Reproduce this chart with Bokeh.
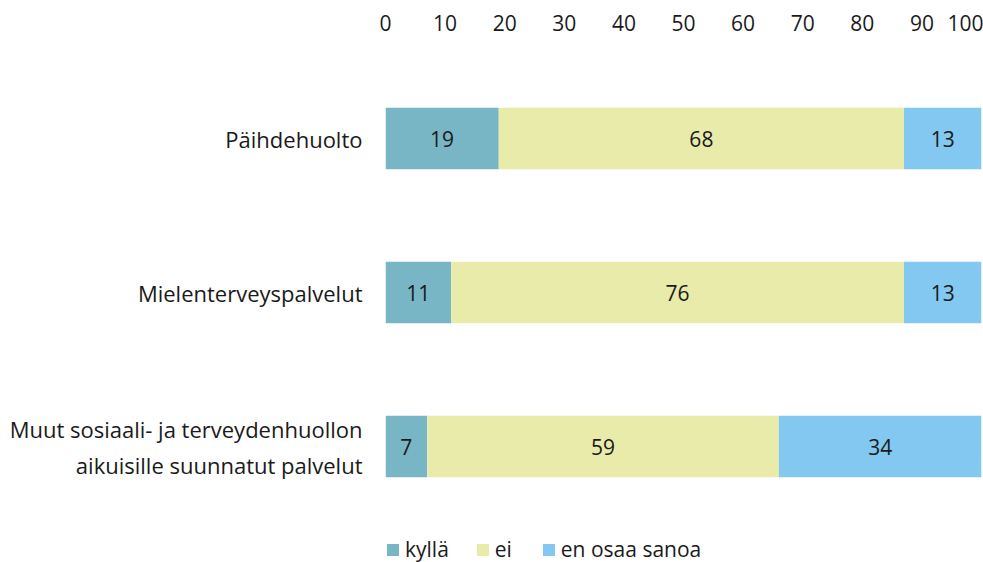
from bokeh.plotting import figure
from bokeh.models import ColumnDataSource, Range1d, Legend, LegendItem, FixedTicker
from bokeh.core.properties import value
from bokeh.embed import file_html
from bokeh.resources import INLINE

categories = ["Päihdehuolto", "Mielenterveyspalvelut",
              "Muut sosiaali- ja terveydenhuollon\naikuisille suunnatut palvelut"]
kylla = [19, 11, 7]
ei = [68, 76, 59]
eos = [13, 13, 34]
series_names = ["kyllä", "ei", "en osaa sanoa"]
colors = ["#78B6C5", "#E8EBAA", "#82C8F0"]
ticks = [0, 10, 20, 30, 40, 50, 60, 70, 80, 90, 100]

FONT = "Open Sans"
TXT = "#1a1a1a"

pos = list(range(len(categories)))
src = ColumnDataSource(dict(pos=pos, k=kylla, e=ei, o=eos))

p = figure(width=983, height=562, y_range=Range1d(2.753, -0.5),
           x_range=(0, 100), x_axis_location="above",
           output_backend="svg", toolbar_location=None,
           min_border_left=385, min_border_right=2, min_border_top=61,
           min_border_bottom=0)

rs = p.hbar_stack(["k", "e", "o"], y="pos", height=0.4, color=colors,
                  line_color=None, source=src)

# value labels
lx, ly, lt = [], [], []
for i in pos:
    vals = [kylla[i], ei[i], eos[i]]
    s = 0
    for v in vals:
        lx.append(s + v / 2)
        ly.append(i)
        lt.append(str(v))
        s += v
p.text(x=lx, y=ly, text=lt, text_align="center", text_baseline="middle",
       text_font=value(FONT), text_font_size="21px", text_color=TXT)

p.xaxis.ticker = ticks
p.xaxis.axis_line_color = None
p.xaxis.major_tick_line_color = None
p.xaxis.minor_tick_line_color = None
p.xaxis.major_label_text_font = FONT
p.xaxis.major_label_text_font_size = "21px"
p.xaxis.major_label_text_color = TXT
p.xaxis.major_label_standoff = 25

p.yaxis.ticker = FixedTicker(ticks=pos, minor_ticks=[])
p.yaxis.major_label_overrides = {i: c for i, c in zip(pos, categories)}
p.yaxis.axis_line_color = None
p.yaxis.major_tick_line_color = None
p.yaxis.minor_tick_line_color = None
p.yaxis.major_label_text_font = FONT
p.yaxis.major_label_text_font_size = "22px"
p.yaxis.major_label_text_color = TXT
p.yaxis.major_label_standoff = 17

p.xgrid.visible = False
p.ygrid.visible = False
p.outline_line_color = None

legend = Legend(items=[LegendItem(label=n, renderers=[r]) for n, r in zip(series_names, rs)],
                orientation="horizontal", location=(0, -1),
                label_text_font=FONT, label_text_font_size="21px",
                label_text_color=TXT, glyph_width=15, glyph_height=15,
                spacing=26, label_standoff=5, border_line_color=None,
                background_fill_alpha=0, padding=0, margin=0)
p.add_layout(legend, "center")

open("out.html", "w").write(file_html(p, INLINE))
